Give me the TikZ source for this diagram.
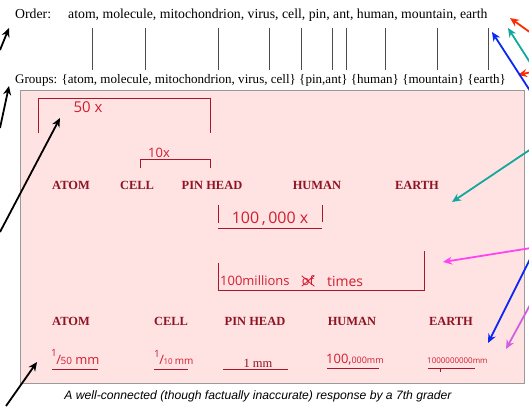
\documentclass[tikz,border=0pt]{standalone}
\usepackage{fontspec}
\setmainfont{Liberation Serif}
\newfontfamily\capfont{Liberation Sans}
\newfontfamily\hand{Open Sans}
\usetikzlibrary{arrows.meta}
\definecolor{boxfill}{HTML}{FFE2E2}
\definecolor{boxline}{HTML}{9A9A9A}
\definecolor{inkred}{HTML}{D01E30}
\definecolor{darkred}{HTML}{8E1424}
\definecolor{brk}{HTML}{A8182A}
\definecolor{arrred}{HTML}{FF2A00}
\definecolor{arrteal}{HTML}{12A89E}
\definecolor{arrblue}{HTML}{0A28F5}
\definecolor{arrmag}{HTML}{FF44F2}
\definecolor{arrvio}{HTML}{D060E0}
\begin{document}
\begin{tikzpicture}[x=1bp,y=-1bp,
  toptext/.style={font=\fontsize{13.8}{15}\selectfont, inner sep=0pt, anchor=base west},
  lab/.style={font=\bfseries\fontsize{12.5}{14}\selectfont, text=darkred, inner sep=0pt, anchor=base},
  hw/.style={font=\hand\fontsize{13}{14}\selectfont, text=inkred, inner sep=0pt},
  bracket/.style={draw=brk, line width=0.9bp},
  uline/.style={draw=brk, line width=0.8bp},
  sep/.style={draw=black!70, line width=0.7bp},
  ann/.style={line width=1.8bp, -{Stealth[length=9bp,width=8bp]}},
]
\useasboundingbox (0,0) rectangle (529,406);
% pink panel
\draw[boxline, fill=boxfill, line width=1bp] (20,90) rectangle (524,383);

% top rows
\node[toptext] (order) at (15,18) {Order:};
\node[toptext] (orderlist) at (68,18) {atom, molecule, mitochondrion, virus, cell, pin, ant, human, mountain, earth};
\node[toptext, font=\fontsize{13.1}{15}\selectfont] (groups) at (15,83) {Groups: \{atom, molecule, mitochondrion, virus, cell\} \{pin,ant\} \{human\} \{mountain\} \{earth\}};
\foreach \x [count=\i] in {92,145,218,269,301,332,346,385,437,488} {
  \coordinate (s\i a) at (\x,28);
  \coordinate (s\i b) at (\x,70);
  \draw[sep] (s\i a) -- (s\i b);
}

% 50x bracket
\coordinate (b50a) at (38,133); \coordinate (b50b) at (38,98);
\coordinate (b50c) at (210,98); \coordinate (b50d) at (210,133);
\draw[bracket] (b50a) -- (b50b) -- (b50c) -- (b50d);
\node[hw, font=\hand\fontsize{15}{15}\selectfont] (t50) at (88,107) {50 x};
% 10x bracket
\coordinate (b10a) at (140,168); \coordinate (b10b) at (140,159);
\coordinate (b10c) at (210,159); \coordinate (b10d) at (210,168);
\draw[bracket] (b10a) -- (b10b) -- (b10c) -- (b10d);
\node[hw] (t10) at (159,153) {10x};

% row 1 labels
\node[lab] (atom1) at (71,189) {ATOM};
\node[lab] (cell1) at (137,189) {CELL};
\node[lab] (pin1) at (212,189) {PIN HEAD};
\node[lab] (human1) at (317,189) {HUMAN};
\node[lab] (earth1) at (417,189) {EARTH};

% 100,000x bracket
\coordinate (ba1) at (218,205); \coordinate (ba2) at (218,223);
\coordinate (ba3) at (218,228); \coordinate (ba4) at (322,228);
\coordinate (ba5) at (322,205); \coordinate (ba6) at (322,222);
\draw[bracket] (ba1) -- (ba2);
\draw[bracket] (ba3) -- (ba4);
\draw[bracket] (ba5) -- (ba6);
\node[hw, font=\hand\fontsize{16}{16}\selectfont] (t100k) at (270,219) {100\,,\,000 x};

% 100 millions bracket
\coordinate (bm1) at (218,263); \coordinate (bm2) at (218,290);
\coordinate (bm3) at (424,290); \coordinate (bm4) at (424,251);
\draw[bracket] (bm1) -- (bm2) -- (bm3) -- (bm4);
\node[hw, anchor=west] (tmil) at (220,281) {100millions};
\node[hw] (tof) at (308,281) {of};
\draw[inkred, line width=0.8bp] (tof.south west) -- (tof.north east);
\draw[inkred, line width=0.8bp] (tof.north west) -- (tof.south east);
\node[hw, anchor=west, font=\hand\fontsize{14}{14}\selectfont] (ttimes) at (327,281) {times};

% row 2 labels
\node[lab] (atom2) at (71,325) {ATOM};
\node[lab] (cell2) at (171,325) {CELL};
\node[lab] (pin2) at (255,325) {PIN HEAD};
\node[lab] (human2) at (352,325) {HUMAN};
\node[lab] (earth2) at (451,325) {EARTH};

% row 3 sizes
\node[hw, anchor=base west] (s1) at (51,364) {\raisebox{8bp}{\fontsize{10}{10}\selectfont 1}\kern-0.5bp/\kern-0.5bp{\fontsize{10}{10}\selectfont 50}\ mm};
\coordinate (u1a) at (52,369); \coordinate (u1b) at (98,369);
\draw[uline] (u1a) -- (u1b);
\node[hw, anchor=base west] (s2) at (154,364) {\raisebox{7bp}{\fontsize{10}{10}\selectfont 1}\kern-0.5bp/\kern-0.5bp{\fontsize{8}{8}\selectfont 10}\,{\fontsize{10}{10}\selectfont mm}};
\coordinate (u2a) at (154,369); \coordinate (u2b) at (188,369);
\draw[uline] (u2a) -- (u2b);
\node[font=\fontsize{12.5}{14}\selectfont, text=darkred, inner sep=0pt, anchor=base] (s3) at (258,367) {1 mm};
\coordinate (u3a) at (223,369); \coordinate (u3b) at (288,369);
\draw[uline] (u3a) -- (u3b);
\node[hw, anchor=base west] (s4) at (326,363) {{\fontsize{13}{13}\selectfont 100},{\fontsize{9}{9}\selectfont 000mm}};
\coordinate (u4a) at (327,368); \coordinate (u4b) at (379,368);
\draw[uline] (u4a) -- (u4b);
\node[hw, anchor=base west, font=\hand\fontsize{8}{8}\selectfont] (s5) at (427,363) {1000000000mm};
\coordinate (u5a) at (428,368); \coordinate (u5b) at (475,368);
\coordinate (u5c) at (440,368); \coordinate (u5d) at (440,372);
\draw[uline] (u5a) -- (u5b);
\draw[uline] (u5c) -- (u5d);

% caption
\node[font=\capfont\itshape\fontsize{12.2}{14}\selectfont, inner sep=0pt] (cap) at (258,396) {A well-connected (though factually inaccurate) response by a 7th grader};

% annotation arrows
\coordinate (k1s) at (0,50);   \coordinate (k1e) at (9,28);
\coordinate (k2s) at (0,128);  \coordinate (k2e) at (9,86);
\coordinate (k3s) at (0,232);  \coordinate (k3e) at (60,118);
\coordinate (k4s) at (6,406);  \coordinate (k4e) at (37,362);
\draw[ann, black] (k1s) -- (k1e);
\draw[ann, black] (k2s) -- (k2e);
\draw[ann, black] (k3s) -- (k3e);
\draw[ann, black] (k4s) -- (k4e);
\coordinate (r1s) at (531,33);  \coordinate (r1e) at (510,18);
\coordinate (r2s) at (536,71);  \coordinate (r2e) at (518,75);
\coordinate (t1s) at (531,64);  \coordinate (t1e) at (508,28);
\coordinate (b1s) at (536,100); \coordinate (b1e) at (492,32);
\coordinate (t2s) at (531,149); \coordinate (t2e) at (452,202);
\coordinate (m1s) at (531,248); \coordinate (m1e) at (443,262);
\coordinate (b2s) at (530,259); \coordinate (b2e) at (488,343);
\coordinate (v1s) at (530,305); \coordinate (v1e) at (506,349);
\draw[ann, arrred] (r1s) -- (r1e);
\draw[ann, arrred] (r2s) -- (r2e);
\draw[ann, arrteal] (t1s) -- (t1e);
\draw[ann, arrblue] (b1s) -- (b1e);
\draw[ann, arrteal] (t2s) -- (t2e);
\draw[ann, arrmag] (m1s) -- (m1e);
\draw[ann, arrblue] (b2s) -- (b2e);
\draw[ann, arrvio] (v1s) -- (v1e);
\end{tikzpicture}
\end{document}
